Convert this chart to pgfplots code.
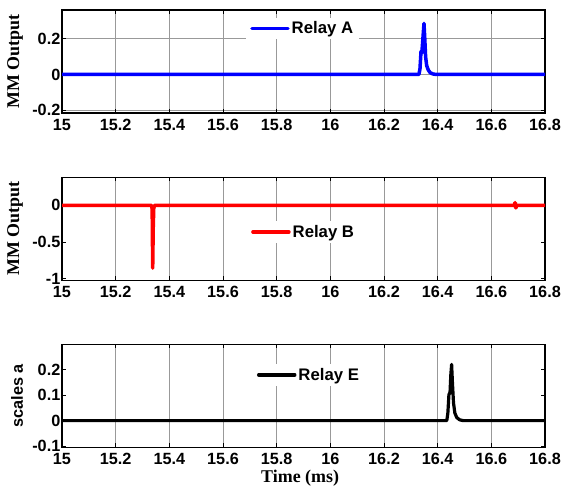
\documentclass[border=0pt]{standalone}
\usepackage{pgfplots}
\pgfplotsset{compat=1.18}
\usepackage{fontspec}
\setmainfont{Liberation Sans}
\newfontfamily\timesf{Liberation Serif}
\definecolor{gridgray}{gray}{0.6}
\pgfplotsset{
  mystyle/.style={
    scale only axis, width=483bp, height=103bp,
    xmin=15, xmax=16.8,
    xtick={15,15.2,...,16.8},
    xticklabels={15,15.2,15.4,15.6,15.8,16,16.2,16.4,16.6,16.8},
    /pgf/number format/assume math mode=true,
    tick label style={font=\fontsize{16.3}{19}\selectfont\bfseries},
    yticklabel style={inner sep=1.5bp},
    xticklabel style={inner sep=1bp, yshift=-5bp},
    tick align=inside, major tick length=4bp,
    tick style={black, line width=0.8bp},
    xtick pos=both, ytick pos=both,
    axis line style={line width=1.2bp},
    xmajorgrids,
    major grid style={gridgray, line width=0.8bp},
    legend style={draw=none, fill=white, font=\fontsize{16.8}{19}\selectfont\bfseries, inner xsep=4bp, inner ysep=2bp},
    legend image code/.code={\draw[##1, line width=3.5bp] (0bp,0bp) -- (36bp,0bp);},
    ylabel style={rotate=0, anchor=center},
    every axis plot/.append style={line join=round, line cap=round},
  }
}
\begin{document}
\begin{tikzpicture}
\path[use as bounding box] (0,0) rectangle (561bp,-489bp);
% Top
\begin{axis}[mystyle, at={(62bp,-10bp)}, anchor=north west,
  ymin=-0.215, ymax=0.36, ytick={-0.2,0,0.2},
  yticklabels={-0.2,0,0.2},
  ymajorgrids,
  ylabel={\timesf\fontsize{18}{20}\selectfont\bfseries MM Output},
  ylabel style={at={(axis description cs:-0.097,0.5)}},
  legend style={at={(axis description cs:0.381,0.822)}, anchor=west}]
\addplot[blue, line width=3.5bp] coordinates {
(15,0) (16.330,0) (16.334,0.03) (16.338,0.13) (16.341,0.12) (16.344,0.18) (16.349,0.285)
(16.352,0.20) (16.355,0.10) (16.359,0.05) (16.365,0.025) (16.372,0.01) (16.382,0.003) (16.395,0) (16.8,0)};
\addlegendentry{Relay A}
\end{axis}
% Middle
\begin{axis}[mystyle, at={(62bp,-177.3bp)}, anchor=north west,
  ymin=-1.02, ymax=0.38, ytick={-1,-0.5,0},
  yticklabels={-1,-0.5,0},
  ylabel={\timesf\fontsize{18}{20}\selectfont\bfseries MM Output},
  ylabel style={at={(axis description cs:-0.097,0.5)}},
  legend style={at={(axis description cs:0.383,0.470)}, anchor=west}]
\addplot[red, line width=3.5bp] coordinates {
(15,0) (15.333,0) (15.336,-0.05) (15.338,-0.855) (15.340,-0.3) (15.342,-0.04) (15.345,0)
(16.686,0) (16.688,0.035) (16.6895,0.035) (16.6905,-0.035) (16.692,-0.035) (16.694,0) (16.8,0)};
\addlegendentry{Relay B}
\end{axis}
% Bottom
\begin{axis}[mystyle, at={(62bp,-344.3bp)}, anchor=north west,
  ymin=-0.105, ymax=0.3, ytick={-0.1,0,0.1,0.2},
  yticklabels={-0.1,0,0.1,0.2},
  ylabel={\fontsize{16.3}{19}\selectfont\bfseries scales a},
  ylabel style={at={(axis description cs:-0.093,0.5)}},
  xlabel={\timesf\fontsize{18}{20}\selectfont\bfseries Time (ms)},
  xlabel style={at={(axis description cs:0.493,-0.30)}, anchor=center},
  legend style={at={(axis description cs:0.395,0.703)}, anchor=west}]
\addplot[black, line width=3.2bp] coordinates {
(15,0) (16.434,0) (16.438,0.03) (16.442,0.103) (16.446,0.11) (16.449,0.18) (16.452,0.221)
(16.455,0.15) (16.459,0.07) (16.464,0.03) (16.471,0.012) (16.482,0.003) (16.495,0) (16.8,0)};
\addlegendentry{Relay E}
\end{axis}
\end{tikzpicture}
\end{document}
